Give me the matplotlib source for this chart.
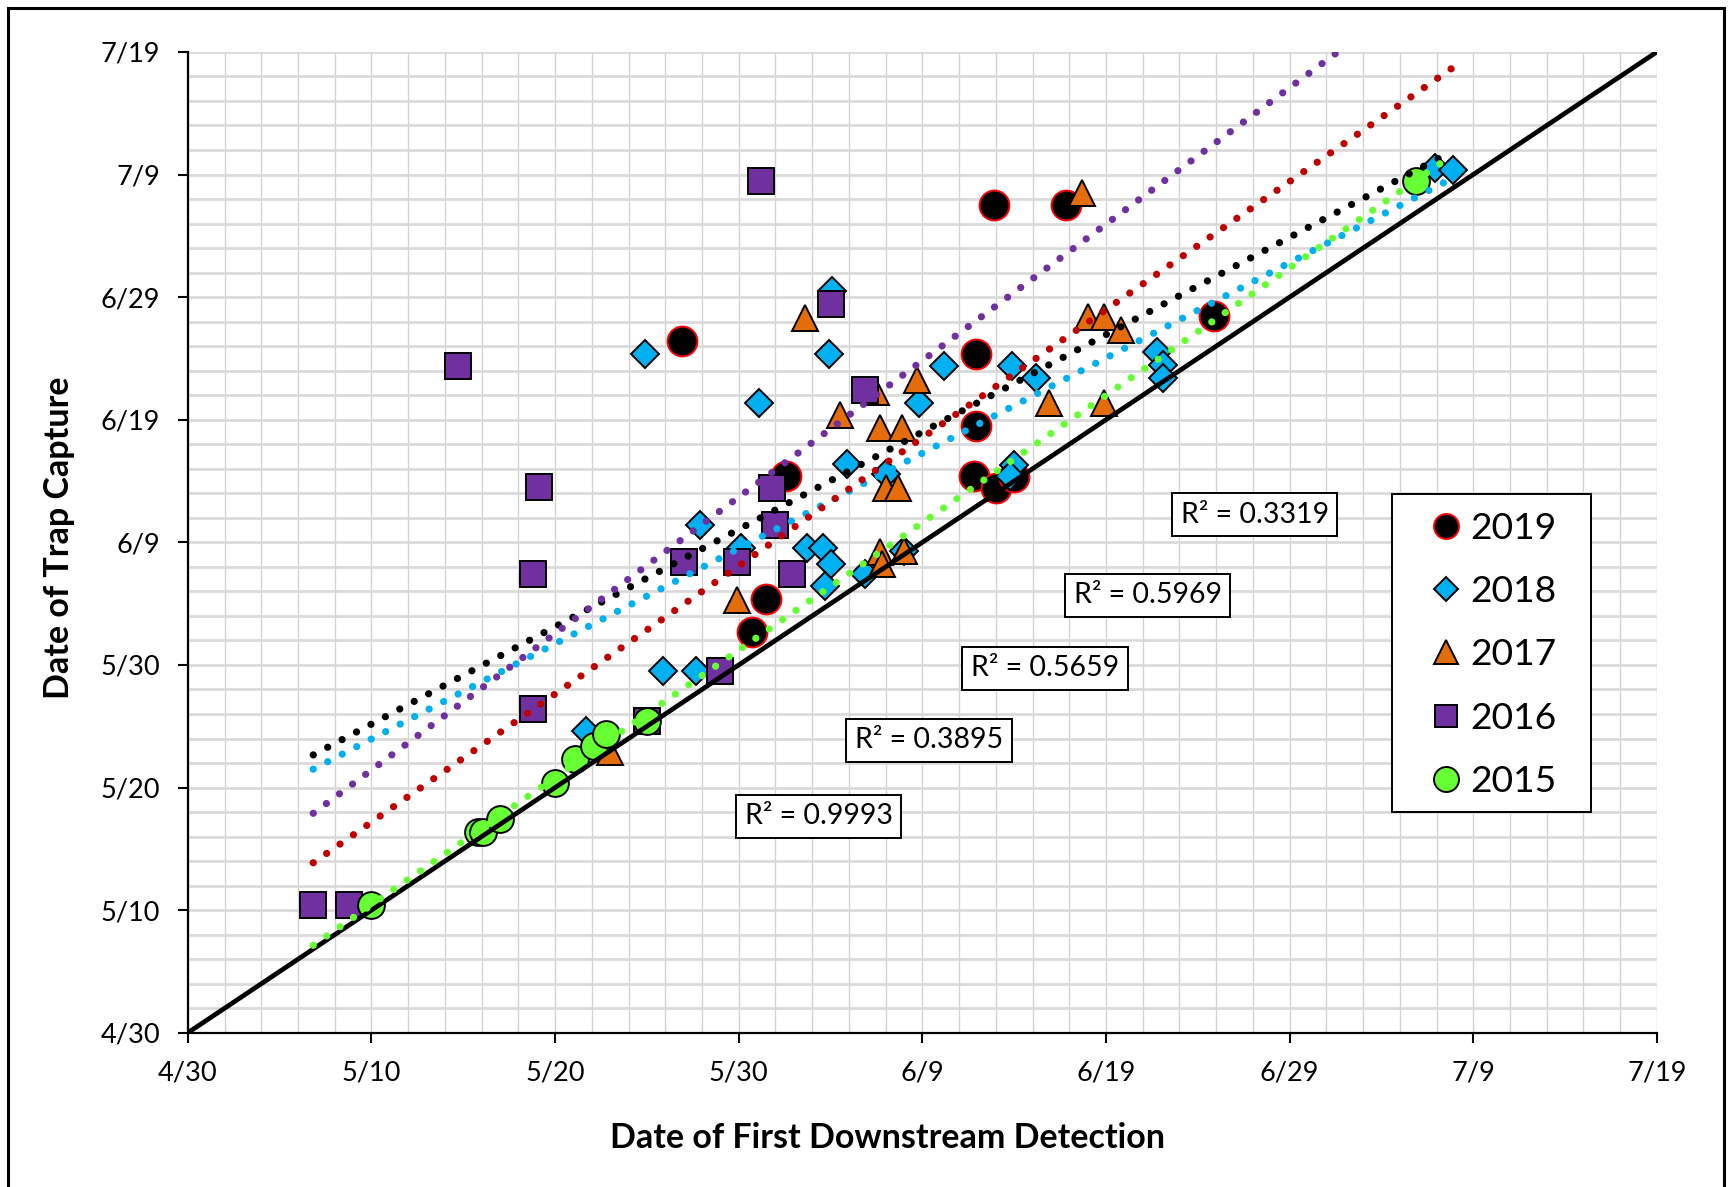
import numpy as np
import matplotlib
matplotlib.use("Agg")
import matplotlib.pyplot as plt
from matplotlib.lines import Line2D
from matplotlib.patches import Rectangle
from matplotlib.ticker import MultipleLocator, FixedLocator

plt.rcParams["font.family"] = ["Lato", "DejaVu Sans"]

# Dates are expressed as days after April 30
tick_days = [0, 10, 20, 30, 40, 50, 60, 70, 80]
tick_labels = ["4/30", "5/10", "5/20", "5/30", "6/9", "6/19", "6/29", "7/9", "7/19"]

# 2019
det_2019 = [26.9, 43.9, 47.8, 42.9, 42.9, 32.6, 42.8, 44.0, 45.0, 31.5, 30.7, 55.9]
cap_2019 = [56.4, 67.5, 67.5, 55.4, 49.5, 45.4, 45.4, 44.4, 45.3, 35.4, 32.7, 58.5]

# 2018
det_2018 = [24.9, 31.1, 35.1, 34.9, 41.2, 44.9, 46.2, 39.8, 35.9, 38.0, 27.9, 30.1,
            33.7, 34.6, 35.0, 34.7, 36.9, 39.0, 25.9, 27.7, 21.7, 45.0, 44.8, 52.8,
            53.1, 53.1, 67.9, 68.9]
cap_2018 = [55.4, 51.4, 60.5, 55.4, 54.4, 54.4, 53.4, 51.4, 46.4, 45.6, 41.4, 39.5,
            39.5, 39.5, 38.2, 36.4, 37.4, 39.3, 29.5, 29.5, 24.6, 46.3, 45.4, 55.5,
            54.5, 53.4, 70.5, 70.4]

# 2017
det_2017 = [48.7, 33.6, 49.0, 49.9, 50.8, 39.7, 37.5, 35.5, 37.7, 38.9, 46.9, 49.9,
            38.0, 38.7, 29.9, 37.7, 39.0, 37.8, 23.0]
cap_2017 = [68.5, 58.3, 58.4, 58.4, 57.3, 53.2, 52.3, 50.4, 49.3, 49.3, 51.4, 51.4,
            44.4, 44.4, 35.3, 39.2, 39.3, 38.2, 22.9]

# 2016
det_2016 = [31.2, 14.7, 35.0, 36.9, 19.1, 31.8, 32.0, 18.8, 27.0, 29.9, 32.9, 29.0,
            18.8, 25.0, 6.8, 8.8]
cap_2016 = [69.5, 54.4, 59.4, 52.4, 44.5, 44.4, 41.4, 37.4, 38.4, 38.4, 37.4, 29.5,
            26.4, 25.4, 10.4, 10.4]

# 2015
det_2015 = [66.9, 10.0, 15.8, 16.1, 17.0, 20.0, 21.1, 22.1, 22.8, 25.0]
cap_2015 = [69.5, 10.4, 16.4, 16.4, 17.4, 20.4, 22.3, 23.4, 24.4, 25.4]

# Linear trendlines per year
trend_years = ["2019", "2018", "2017", "2016", "2015"]
trend_slope = [0.794, 0.777, 1.045, 1.113, 1.039]
trend_intercept = [17.24, 16.19, 6.73, 10.30, 0.04]
trend_range = [6.83, 68.8]

r2_values = ["0.3319", "0.5969", "0.5659", "0.3895", "0.9993"]

fig = plt.figure(figsize=(17.32, 11.87), dpi=100)
ax = fig.add_axes([0.10843, 0.12991, 0.84821, 0.82637])
ax.set_xlim(0, 80)
ax.set_ylim(0, 80)

# grid: every two days
ax.xaxis.set_major_locator(FixedLocator(tick_days))
ax.yaxis.set_major_locator(FixedLocator(tick_days))
ax.xaxis.set_minor_locator(MultipleLocator(2))
ax.yaxis.set_minor_locator(MultipleLocator(2))
ax.set_xticklabels(tick_labels)
ax.set_yticklabels(tick_labels)
ax.set_axisbelow(True)
ax.grid(True, which="both", axis="x", color="#D2D2D2", linewidth=1.0)
ax.grid(True, which="both", axis="y", color="#D9D9D9", linewidth=1.9)

for s in ["top", "right"]:
    ax.spines[s].set_visible(False)
for s in ["left", "bottom"]:
    ax.spines[s].set_linewidth(1.6)
ax.tick_params(which="major", direction="out", length=7, width=1.5,
               labelsize=19.5, pad=13)
ax.tick_params(which="minor", length=0)

ax.set_xlabel("Date of First Downstream Detection", fontsize=24.5, fontweight="bold")
ax.set_ylabel("Date of Trap Capture", fontsize=24.5, fontweight="bold")
ax.xaxis.set_label_coords(0.4766, -0.0905)
ax.yaxis.set_label_coords(-0.0765, 0.5044)

series = [
    ("2019", det_2019, cap_2019, "o", 21.5, "black", "#FF0000"),
    ("2018", det_2018, cap_2018, "D", 14.7, "#00B0F0", "black"),
    ("2017", det_2017, cap_2017, "^", 18.8, "#E46C0A", "black"),
    ("2016", det_2016, cap_2016, "s", 18.5, "#7030A0", "black"),
    ("2015", det_2015, cap_2015, "o", 19.3, "#66FF33", "black"),
]
for i, (name, xs, ys, m, ms, fc, ec) in enumerate(series):
    ax.plot(xs, ys, linestyle="none", marker=m, markersize=ms, markerfacecolor=fc,
            markeredgecolor=ec, markeredgewidth=1.4, zorder=3 + i * 0.1)

# 1:1 reference line
ax.plot([0, 80], [0, 80], color="black", linewidth=3.4, zorder=4,
        solid_capstyle="butt")

trend_colors = {"2019": "black", "2018": "#00B0F0", "2017": "#C00000",
                "2016": "#7030A0", "2015": "#66FF33"}
xr = np.array(trend_range)
for yr, b1, b0 in zip(trend_years, trend_slope, trend_intercept):
    ax.plot(xr, b0 + b1 * xr, color=trend_colors[yr], linewidth=5.2,
            dashes=(0.01, 2.25), dash_capstyle="round", zorder=5)

# R² annotations
r2_pos = [(58.1, 42.25), (52.27, 35.68), (46.68, 29.73), (40.36, 23.87), (34.35, 17.66)]
for val, (px, py) in zip(r2_values, r2_pos):
    ax.text(px, py, f"R\u00b2 = {val}", fontsize=20.5, ha="center", va="center",
            zorder=7,
            bbox=dict(boxstyle="square,pad=0.3", facecolor="white",
                      edgecolor="black", linewidth=1.4))

# legend with its own box
box = Rectangle((1392 / 1732, 1 - 812 / 1187), 199 / 1732, 318 / 1187,
                transform=fig.transFigure, facecolor="white", edgecolor="black",
                linewidth=1.4, zorder=8)
ax.add_patch(box)
box.set_clip_on(False)
handles = [
    Line2D([], [], linestyle="none", marker="o", markersize=18, markerfacecolor="black",
           markeredgecolor="#FF0000", markeredgewidth=1.4),
    Line2D([], [], linestyle="none", marker="D", markersize=12.0, markerfacecolor="#00B0F0",
           markeredgecolor="black", markeredgewidth=1.4),
    Line2D([], [], linestyle="none", marker="^", markersize=17.0, markerfacecolor="#E46C0A",
           markeredgecolor="black", markeredgewidth=1.4),
    Line2D([], [], linestyle="none", marker="s", markersize=16.5, markerfacecolor="#7030A0",
           markeredgecolor="black", markeredgewidth=1.4),
    Line2D([], [], linestyle="none", marker="o", markersize=18, markerfacecolor="#66FF33",
           markeredgecolor="black", markeredgewidth=1.4),
]
leg = ax.legend(handles, [s[0] for s in series], loc="center",
                bbox_to_anchor=(1494.9 / 1732, 0.4482), bbox_transform=fig.transFigure,
                frameon=False, fontsize=26.8, handlelength=0.7, handletextpad=0.3,
                labelspacing=0.81, borderpad=0, numpoints=1)
leg.set_zorder(9)

# outer border of the figure
fig.patches.append(Rectangle((8 / 1732, -0.02), 1716 / 1732, 1.02 - 8 / 1187,
                             transform=fig.transFigure, fill=False,
                             edgecolor="black", linewidth=2.2))

fig.savefig("out.png", dpi=100)
